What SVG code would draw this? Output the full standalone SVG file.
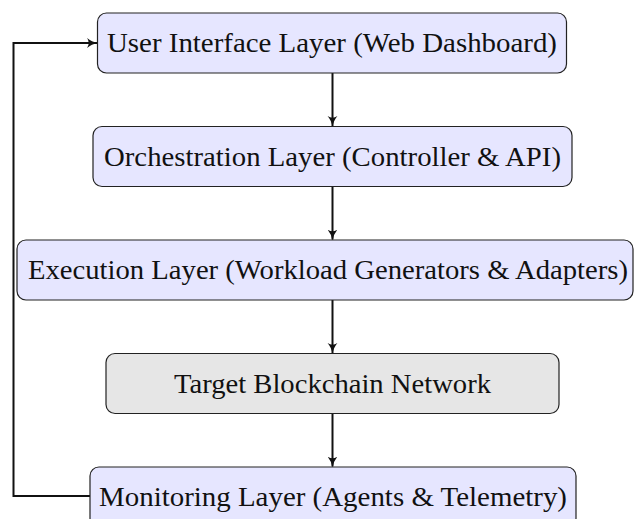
<svg xmlns="http://www.w3.org/2000/svg" width="635" height="519" viewBox="0 0 635 519">
<style>
.box{stroke:#222;stroke-width:1.2}
.blue{fill:#E6E6FF}
.gray{fill:#E6E6E6}
.lbl{font-family:"Liberation Serif","Times New Roman",serif;font-size:27px;fill:#111;text-anchor:middle}
.edge{fill:none;stroke:#111;stroke-width:2}
</style>
<defs>
<marker id="arr" viewBox="0 0 10 10" refX="9" refY="5" markerWidth="11" markerHeight="11" markerUnits="userSpaceOnUse" orient="auto">
<path d="M0,0.5 Q4,4 10,5 Q4,6 0,9.5 Q3,5 0,0.5 Z" fill="#111"/>
</marker>
</defs>
<rect width="635" height="519" fill="#fff"/>
<g id="connectors">
<line class="edge" x1="332.5" y1="73" x2="332.5" y2="126" marker-end="url(#arr)"/>
<line class="edge" x1="332.5" y1="186.5" x2="332.5" y2="239.5" marker-end="url(#arr)"/>
<line class="edge" x1="332.5" y1="300" x2="332.5" y2="353" marker-end="url(#arr)"/>
<line class="edge" x1="332.5" y1="413.5" x2="332.5" y2="466.5" marker-end="url(#arr)"/>
<polyline class="edge" points="90,496 13.5,496 13.5,43 97,43" marker-end="url(#arr)"/>
</g>
<g id="ui">
<rect class="box blue" x="97.5" y="13" width="469" height="60" rx="9"/>
<text class="lbl" x="332" y="52" textLength="450" lengthAdjust="spacingAndGlyphs">User Interface Layer (Web Dashboard)</text>
</g>
<g id="orch">
<rect class="box blue" x="93" y="126.5" width="479" height="60" rx="9"/>
<text class="lbl" x="332.5" y="165.5" textLength="457" lengthAdjust="spacingAndGlyphs">Orchestration Layer (Controller &amp; API)</text>
</g>
<g id="exec">
<rect class="box blue" x="17" y="240" width="616" height="60" rx="9"/>
<text class="lbl" x="328" y="279" textLength="600" lengthAdjust="spacingAndGlyphs">Execution Layer (Workload Generators &amp; Adapters)</text>
</g>
<g id="target">
<rect class="box gray" x="106" y="353.5" width="453" height="60" rx="9"/>
<text class="lbl" x="332.5" y="392.5" textLength="317" lengthAdjust="spacingAndGlyphs">Target Blockchain Network</text>
</g>
<g id="monitor">
<rect class="box blue" x="90" y="467" width="486" height="60" rx="9"/>
<text class="lbl" x="333" y="506" textLength="468" lengthAdjust="spacingAndGlyphs">Monitoring Layer (Agents &amp; Telemetry)</text>
</g>
</svg>
